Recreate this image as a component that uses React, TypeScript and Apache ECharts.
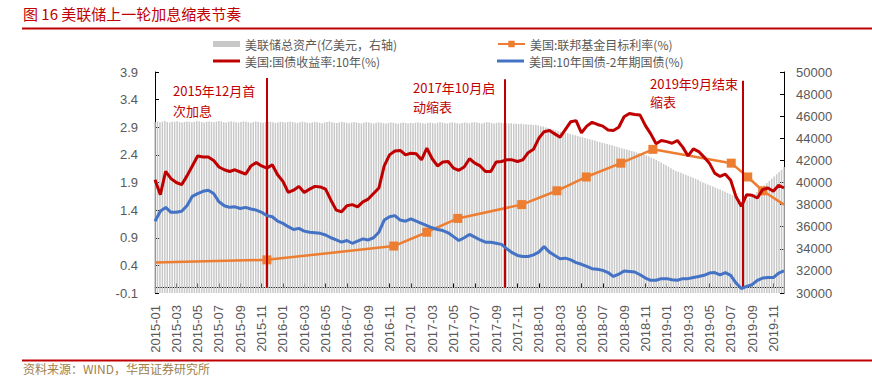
import React, { useEffect, useRef } from 'react';
import * as echarts from 'echarts';

// x axis: months counted from 2015-01 (0) to the right edge (59); labels every 2 months
const X_LABELS = [
  '2015-01', '2015-03', '2015-05', '2015-07', '2015-09', '2015-11',
  '2016-01', '2016-03', '2016-05', '2016-07', '2016-09', '2016-11',
  '2017-01', '2017-03', '2017-05', '2017-07', '2017-09', '2017-11',
  '2018-01', '2018-03', '2018-05', '2018-07', '2018-09', '2018-11',
  '2019-01', '2019-03', '2019-05', '2019-07', '2019-09', '2019-11',
];
const X_MIN = 0;
const X_MAX = 59;

// Fed total assets, weekly (亿美元), right axis
const BAR_VALUES = [
  45480, 45520, 45450, 45500, 45560, 45470, 45430, 45510, 45490, 45540, 45460, 45420, 45480, 45530, 45500, 45450,
  45490, 45560, 45520, 45470, 45440, 45500, 45530, 45480, 45450, 45510, 45570, 45520, 45460, 45430, 45490, 45540,
  45500, 45460, 45420, 45480, 45530, 45490, 45450, 45400, 45470, 45510, 45480, 45440, 45410, 45470, 45520, 45490,
  45450, 45400, 45440, 45500, 45470,
  45420, 45460, 45510, 45470, 45430, 45390, 45450, 45500, 45460, 45420, 45380, 45440, 45490, 45450, 45410, 45370,
  45430, 45480, 45520, 45460, 45410, 45380, 45440, 45490, 45450, 45400, 45360, 45420, 45470, 45430, 45390, 45350,
  45410, 45460, 45420, 45380, 45340, 45400, 45450, 45410, 45370, 45330, 45390, 45440, 45400, 45360, 45320, 45380,
  45430, 45390, 45350, 45400,
  45360, 45410, 45450, 45400, 45360, 45320, 45380, 45430, 45390, 45350, 45410, 45460, 45420, 45380, 45340, 45400,
  45450, 45410, 45370, 45330, 45390, 45440, 45400, 45360, 45420, 45470, 45430, 45390, 45350, 45410, 45460, 45420,
  45380, 45340, 45400, 45440, 45400, 45360,
  45380, 45340, 45360, 45310, 45330, 45290, 45310, 45260, 45280, 45240, 45250, 45210, 45220, 45170,
  45100, 45060, 44990, 44930, 44870, 44800, 44740, 44670,
  44600, 44560, 44500, 44450, 44390, 44330, 44270, 44210,
  44150, 44100, 44030, 43970, 43910, 43850, 43790, 43720, 43660,
  43600, 43550, 43480, 43430, 43360, 43300, 43230, 43170,
  43100, 43040, 42980, 42920, 42850, 42800, 42720, 42660, 42600, 42520, 42450, 42380,
  42250, 42150, 42040, 41920, 41800, 41680, 41560, 41430, 41300, 41170,
  41050, 40960, 40880, 40790, 40700, 40610, 40520, 40430, 40340, 40250,
  40100, 40010, 39920, 39830, 39730, 39640, 39550, 39450, 39360, 39260, 39160, 39060, 38960,
  38850, 38740, 38620, 38500, 38300,
  38350, 38450, 38600, 38750, 38950, 39150, 39350, 39550, 39750, 39950, 40150, 40350, 40550, 40750, 40950, 41150, 41400,
];

// Half-month readings (step 0.5 month from 2015-01)
const LINE_STEP = 0.5;
const YIELD_10Y = [
  1.95, 1.68, 2.1, 1.97, 1.9, 1.86, 2.02, 2.2, 2.38, 2.36,
  2.36, 2.3, 2.18, 2.13, 2.1, 2.13, 2.09, 2.05, 2.2, 2.26,
  2.2, 2.16, 2.22, 2.04, 1.92, 1.72, 1.76, 1.83, 1.72, 1.78,
  1.83, 1.82, 1.78, 1.58, 1.4, 1.37, 1.48, 1.5, 1.46, 1.55,
  1.6, 1.7, 1.8, 2.2, 2.4, 2.47, 2.48, 2.4, 2.43, 2.42,
  2.31, 2.52, 2.33, 2.2, 2.27, 2.28, 2.16, 2.12, 2.18, 2.33,
  2.25, 2.2, 2.1, 2.1, 2.27, 2.28, 2.31, 2.31, 2.28, 2.31,
  2.44, 2.5, 2.7, 2.82, 2.84, 2.78, 2.72, 2.86, 3.0, 3.02,
  2.8, 2.92, 2.99, 2.95, 2.92, 2.85, 2.84, 2.9, 3.09, 3.15,
  3.13, 3.12, 2.93, 2.78, 2.6, 2.66, 2.64, 2.61, 2.66, 2.54,
  2.38, 2.51, 2.46, 2.36, 2.25, 2.07, 2.01, 2.05, 1.94, 1.64,
  1.47, 1.68, 1.67, 1.62, 1.77, 1.8, 1.74, 1.85, 1.8,
];
const SPREAD_10Y_2Y = [
  1.2, 1.38, 1.45, 1.36, 1.36, 1.38, 1.48, 1.65, 1.7, 1.74,
  1.76, 1.7, 1.55, 1.48, 1.45, 1.46, 1.43, 1.45, 1.42, 1.4,
  1.36, 1.3, 1.28, 1.2, 1.16, 1.1, 1.05, 1.07, 1.02, 1.0,
  0.99, 0.98, 0.95, 0.9, 0.86, 0.82, 0.85, 0.8, 0.84, 0.88,
  0.86, 0.9, 1.0, 1.22, 1.28, 1.3, 1.22, 1.2, 1.24, 1.2,
  1.16, 1.12, 1.08, 1.05, 1.03, 0.99, 0.92, 0.85, 0.9, 0.96,
  0.91, 0.86, 0.82, 0.82, 0.8, 0.78, 0.7, 0.63, 0.58, 0.56,
  0.56, 0.59, 0.64, 0.74, 0.64, 0.58, 0.52, 0.53, 0.5, 0.45,
  0.42, 0.38, 0.34, 0.33, 0.31, 0.27, 0.2, 0.24, 0.3, 0.29,
  0.28, 0.23, 0.17, 0.13, 0.13, 0.16, 0.16, 0.14, 0.13, 0.16,
  0.16, 0.18, 0.2, 0.22, 0.26, 0.27, 0.23, 0.27, 0.22, 0.08,
  -0.02, 0.02, 0.05, 0.13, 0.17, 0.18, 0.18, 0.26, 0.3,
];

// Fed funds target rate: change points (month position) and values
const FED_RATE_POS = [0, 10.5, 22.4, 25.5, 28.4, 34.4, 37.7, 40.45, 43.7, 46.7, 54.05, 55.6, 57.0, 59];
const FED_RATE_VALUES = [0.45, 0.5, 0.75, 1.0, 1.25, 1.5, 1.75, 2.0, 2.25, 2.5, 2.25, 2.0, 1.75, 1.5];
const FED_RATE_MARKED = [false, true, true, true, true, true, true, true, true, true, true, true, true, false];

// Event lines
const EVENT_POS = [10.5, 32.85, 55.15];
const EVENT_TOP = [3.79, 3.77, 3.74];
const EVENT_TEXT = [
  ['2015年12月首', '次加息'],
  ['2017年10月启', '动缩表'],
  ['2019年9月结束', '缩表'],
];

const NAME_BAR = '美联储总资产(亿美元，右轴)';
const NAME_FED = '美国:联邦基金目标利率(%)';
const NAME_10Y = '美国:国债收益率:10年(%)';
const NAME_SPREAD = '美国:10年国债-2年期国债(%)';

const CJK = "'Noto Sans CJK SC', 'Noto Sans', sans-serif";
const NUM = "'Liberation Sans', Arial, sans-serif";
const RED = '#C00000';
const BLUE = '#4472C4';
const ORANGE = '#ED7D31';
const GRAY_TEXT = '#595959';

export default function App() {
  const ref = useRef<HTMLDivElement>(null);

  useEffect(() => {
    if (!ref.current) return;
    const chart = echarts.init(ref.current, null, { renderer: 'svg' });

    const nBars = BAR_VALUES.length;
    const barData = BAR_VALUES.map((v, i) => [X_MIN + (i * (X_MAX - X_MIN)) / (nBars - 1), v]);
    const yieldData = YIELD_10Y.map((v, i) => [i * LINE_STEP, v]);
    const spreadData = SPREAD_10Y_2Y.map((v, i) => [i * LINE_STEP, v]);
    const fedData = FED_RATE_POS.map((p, i) => ({
      value: [p, FED_RATE_VALUES[i]],
      symbol: FED_RATE_MARKED[i] ? 'rect' : 'none',
    }));

    const eventLines = EVENT_POS.map((p, i) => [
      { coord: [p, EVENT_TOP[i]] },
      { coord: [p, 0] },
    ]);

    const annotations: any[] = [];
    const annPos = [
      { x: 173, y1: 90, y2: 110 },
      { x: 413, y1: 87.5, y2: 106 },
      { x: 650, y1: 83, y2: 101.5 },
    ];
    EVENT_TEXT.forEach((lines, i) => {
      lines.forEach((t, j) => {
        annotations.push({
          type: 'text',
          z: 100,
          style: {
            text: t,
            x: annPos[i].x,
            y: j === 0 ? annPos[i].y1 : annPos[i].y2,
            fill: RED,
            font: `13px ${CJK}`,
            align: 'left',
            verticalAlign: 'middle',
            textAlign: 'left',
            textVerticalAlign: 'middle',
          },
        });
      });
    });

    const legendBase = {
      orient: 'horizontal',
      padding: 0,
      itemWidth: 27,
      itemHeight: 8,
      itemGap: 5,
      selectedMode: false,
      textStyle: { fontSize: 12, color: GRAY_TEXT, fontFamily: CJK },
    };

    chart.setOption({
      animation: false,
      backgroundColor: '#ffffff',
      grid: { left: 155, right: 88, top: 72, bottom: 83, containLabel: false },
      legend: [
        { ...legendBase, left: 213, top: 38, itemHeight: 6, data: [{ name: NAME_BAR, icon: 'rect' }] },
        { ...legendBase, left: 497, top: 38, data: [NAME_FED] },
        { ...legendBase, left: 213, top: 55, itemHeight: 3, data: [{ name: NAME_10Y, icon: 'rect' }] },
        { ...legendBase, left: 497, top: 55, itemHeight: 3, data: [{ name: NAME_SPREAD, icon: 'rect' }] },
      ],
      xAxis: {
        type: 'value',
        min: X_MIN,
        max: X_MAX,
        interval: 2,
        axisLine: { show: true, onZero: true, onZeroAxisIndex: 0, lineStyle: { color: '#000', width: 1 } },
        axisTick: { show: true, inside: true, length: 4, lineStyle: { color: '#000' } },
        splitLine: { show: false },
        axisLabel: {
          rotate: 90,
          margin: 12,
          fontSize: 13,
          fontFamily: NUM,
          color: GRAY_TEXT,
          formatter: (v: number) => {
            const k = Math.round(v);
            if (k % 2 !== 0) return '';
            return X_LABELS[k / 2] ?? '';
          },
        },
      },
      yAxis: [
        {
          type: 'value',
          min: -0.1,
          max: 3.9,
          interval: 0.5,
          position: 'left',
          axisLine: { show: true, onZero: false, lineStyle: { color: '#000', width: 1 } },
          axisTick: { show: true, inside: true, length: 4, lineStyle: { color: '#000' } },
          splitLine: { show: false },
          axisLabel: {
            margin: 17,
            fontSize: 13,
            fontFamily: NUM,
            color: GRAY_TEXT,
            formatter: (v: number) => v.toFixed(1),
          },
        },
        {
          type: 'value',
          min: 30000,
          max: 50000,
          interval: 2000,
          position: 'right',
          axisLine: { show: true, onZero: false, lineStyle: { color: '#000', width: 1 } },
          axisTick: { show: true, inside: true, length: 4, lineStyle: { color: '#000' } },
          splitLine: { show: false },
          axisLabel: {
            margin: 12,
            fontSize: 13,
            fontFamily: NUM,
            color: GRAY_TEXT,
            formatter: (v: number) => String(Math.round(v)),
          },
        },
      ],
      series: [
        {
          name: NAME_BAR,
          type: 'bar',
          yAxisIndex: 1,
          data: barData,
          barWidth: 1.5,
          itemStyle: { color: '#C8C8C8' },
          z: 1,
        },
        {
          name: NAME_FED,
          type: 'line',
          yAxisIndex: 0,
          data: fedData,
          symbol: 'rect',
          symbolSize: 9,
          lineStyle: { color: ORANGE, width: 2.5 },
          itemStyle: { color: ORANGE },
          z: 3,
        },
        {
          name: NAME_10Y,
          type: 'line',
          yAxisIndex: 0,
          data: yieldData,
          showSymbol: false,
          symbol: 'none',
          lineStyle: { color: RED, width: 3 },
          itemStyle: { color: RED },
          z: 4,
          markLine: {
            silent: true,
            symbol: ['none', 'none'],
            label: { show: false },
            lineStyle: { color: RED, width: 2, type: 'solid' },
            data: eventLines,
          },
        },
        {
          name: NAME_SPREAD,
          type: 'line',
          yAxisIndex: 0,
          data: spreadData,
          showSymbol: false,
          symbol: 'none',
          lineStyle: { color: BLUE, width: 3 },
          itemStyle: { color: BLUE },
          z: 5,
        },
      ],
      graphic: [
        {
          type: 'text',
          style: {
            text: '图 16 美联储上一轮加息缩表节奏',
            x: 23,
            y: 13,
            fill: RED,
            font: `15px ${CJK}`,
            align: 'left',
            verticalAlign: 'middle',
            textAlign: 'left',
            textVerticalAlign: 'middle',
          },
        },
        {
          type: 'line',
          shape: { x1: 22, y1: 28.5, x2: 872, y2: 28.5 },
          style: { stroke: RED, lineWidth: 2 },
        },
        {
          type: 'line',
          shape: { x1: 22, y1: 360.5, x2: 872, y2: 360.5 },
          style: { stroke: RED, lineWidth: 2 },
        },
        {
          type: 'text',
          style: {
            text: '资料来源：WIND，华西证券研究所',
            x: 23,
            y: 368,
            fill: '#A0804A',
            font: `12px ${CJK}`,
            align: 'left',
            verticalAlign: 'middle',
            textAlign: 'left',
            textVerticalAlign: 'middle',
          },
        },
        ...annotations,
      ],
    });

    return () => {
      chart.dispose();
    };
  }, []);

  return (
    <div
      ref={ref}
      style={{ position: 'fixed', left: 0, top: 0, width: '872px', height: '376px', background: '#fff' }}
    />
  );
}
